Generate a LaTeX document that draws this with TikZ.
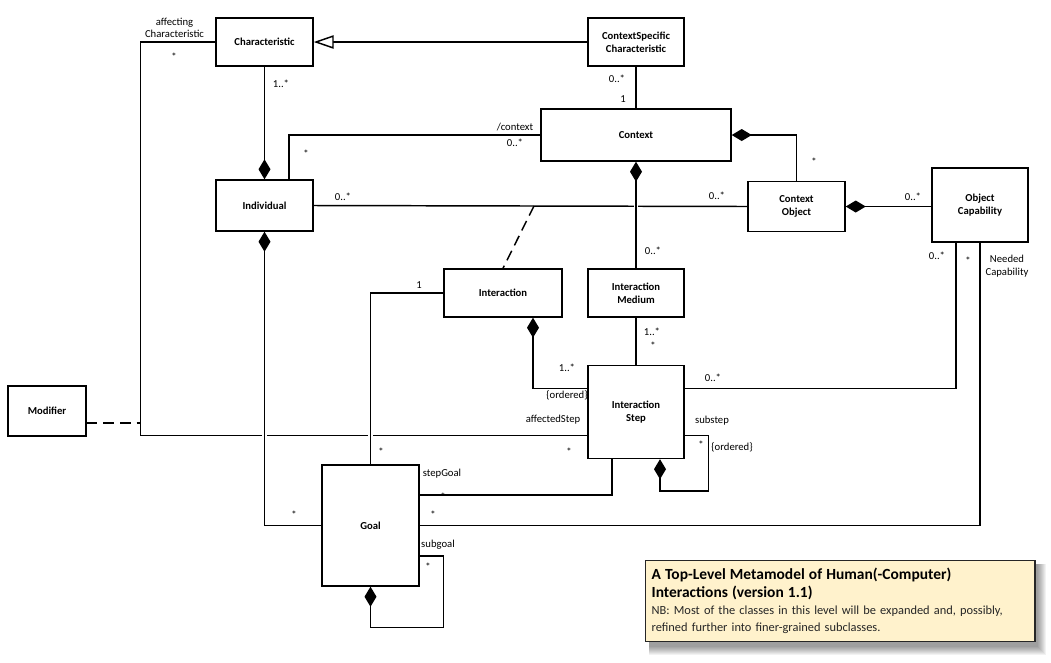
\documentclass[tikz,border=0pt]{standalone}
\usepackage{fontspec}
\setmainfont{Carlito}
\usepackage{xcolor}
\definecolor{notefill}{RGB}{255,242,204}
\usetikzlibrary{arrows.meta, positioning, calc, backgrounds}

\begin{document}
\begin{tikzpicture}[
  x=0.75pt, y=-0.75pt,
  font=\fontsize{8}{9.5}\selectfont,
  assoc/.style={draw=black, line width=1.1pt},
  compose/.style={assoc, -{Diamond[length=15pt, width=9pt]}},
  generalize/.style={assoc, -{Triangle[open, length=15pt, width=10pt, fill=white]}},
  jump/.style={preaction={draw=white, line width=3.5pt, arrows=-,
                          shorten <=4pt, shorten >=4pt}},
  assocclass/.style={assoc, dash pattern=on 8pt off 4.5pt},
  cls/.style={
    draw=black, line width=1.1pt, fill=white, align=center,
    minimum width=72pt, minimum height=36pt, inner sep=2pt,
    font=\fontsize{8}{10}\selectfont\bfseries
  },
  mult/.style={inner sep=0.5pt, align=center},
  note/.style={
    draw=black!85, line width=1pt, fill=notefill, align=left,
    text width=283pt, minimum height=60.75pt, inner sep=4.5pt,
    font=\fontsize{9.3}{13}\selectfont, text=black!85
  }
]
\useasboundingbox (0,0) rectangle (1051,662);

% classes
\node[cls, minimum width=72.75pt] (charac) at (264.5,42) {Characteristic};
\node[cls] (cschar) at (636,42) {ContextSpecific\\Characteristic};
\node[cls, minimum width=142.5pt, minimum height=39pt] (context) at (636,135) {Context};
\node[cls, minimum width=72.75pt, minimum height=38.25pt] (indiv) at (264.5,205.5) {Individual};
\node[cls, minimum width=72.75pt, minimum height=37.5pt] (ctxobj) at (796.5,206.5) {Context\\Object};
\node[cls, minimum height=55.5pt] (objcap) at (980,205) {Object\\Capability};
\node[cls, minimum width=88.5pt] (interact) at (503,293) {Interaction};
\node[cls] (medium) at (636,293) {Interaction\\Medium};
\node[cls, minimum height=69.75pt, below=35.25pt of medium] (step) {Interaction\\Step};
\node[cls, minimum width=58.5pt, minimum height=37.5pt] (modifier) at (47,411) {Modifier};
\node[cls, minimum width=72.75pt, minimum height=90.75pt] (goal) at (370.5,525.5) {Goal};

% note
\node[note, anchor=north west] (note) at (645,560)
  {{\bfseries\fontsize{11.6}{13.5}\selectfont\color{black} A Top-Level Metamodel of Human(-Computer)\\
   Interactions (version 1.1)}\\
   NB: Most of the classes in this level will be expanded and, possibly,\\
   refined further into finer-grained subclasses.};
\begin{scope}[on background layer]
  \foreach \s in {1,...,9}
    \fill[black, opacity=0.05] ($(note.north west)+(4,4)$)
      rectangle ($(note.south east)+(\s+1,\s+4)$);
\end{scope}

% helper points
\coordinate (affTop) at ($(charac.west)+(-75,0)$);
\coordinate (modEnd) at ($(modifier.east)+(0,12)$);
\coordinate (acls) at ($(indiv.east)!0.508!(ctxobj.west)$);

% lines that get crossed
\draw[assoc] (charac.west) -- (affTop) |- ($(step.west)+(0,23.5)$);
\draw[assoc] (indiv.east) -- (ctxobj.west);

% connectors
\draw[generalize] (cschar.west) -- (charac.east);
\draw[compose] (charac.south) -- (indiv.north);
\draw[assoc] (cschar.south) -- (context.north);
\draw[assoc] (context.west) -| ($(indiv.north)+(24.5,0)$);
\draw[compose] (ctxobj.north) |- (context.east);
\draw[compose, jump] (medium.north) -- (context.south);
\draw[assocclass] (acls) -- (interact.north);
\draw[assocclass] (modEnd) -- (modEnd -| affTop);
\draw[compose] (objcap.west |- ctxobj.east) -- (ctxobj.east);
\draw[compose] ($(step.west)+(0,-23.5)$) -| ($(interact.south)+(30,0)$);
\draw[assoc] (medium.south) -- (step.north);
\draw[assoc] ($(step.east)+(0,-23.5)$) -| ($(objcap.south)+(-24,0)$);
\draw[compose] ($(step.east)+(0,23.5)$) -- ++(24,0)
  |- ($(step.south)+(24,32)$) -- ($(step.south)+(24,0)$);
\draw[assoc, jump] (interact.west) -| (goal.north);
\draw[assoc] ($(step.south)+(-24,0)$) |- ($(goal.east)+(0,-30.5)$);
\draw[assoc] (goal.east) -| (objcap.south);
\draw[compose] ($(goal.east)+(0,30.5)$) -- ++(24,0)
  |- ($(goal.south)+(0,41)$) -- (goal.south);
\draw[compose, jump] (goal.west) -| (indiv.south);

% roles and multiplicities
\node[mult] (lAffChar) at (174.5,28) {affecting\\Characteristic};
\node[mult] (lAffStar) at (174,57) {*};
\node[mult] (lCharInd) at (281,84) {1..*};
\node[mult] (lCsFrom) at (617,79) {0..*};
\node[mult] (lCsTo) at (623,99) {1};
\node[mult] (lCtxRole) at (515,127) {/context};
\node[mult] (lCtxMult) at (515,143) {0..*};
\node[mult] (lIndCtx) at (306,154) {*};
\node[mult] (lCtxObj) at (814,162) {*};
\node[mult] (lIndObj) at (343,197) {0..*};
\node[mult] (lObjInd) at (717,196) {0..*};
\node[mult] (lCapObj) at (913,197) {0..*};
\node[mult] (lMedCtx) at (653,251) {0..*};
\node[mult] (lInterGoal) at (419,285) {1};
\node[mult] (lCapStep) at (937,256) {0..*};
\node[mult] (lCapGoal) at (968,261) {*};
\node[mult] (lNeeded) at (1007,266) {Needed\\Capability};
\node[mult] (lMedStep) at (652,332) {1..*};
\node[mult] (lMedStar) at (653,346) {*};
\node[mult] (lInterStep) at (567,368) {1..*};
\node[mult] (lOrdered) at (567,395) {\{ordered\}};
\node[mult] (lStepCap) at (713,378) {0..*};
\node[mult] (lAffStep) at (553,420) {affectedStep};
\node[mult] (lSubstep) at (712,421) {substep};
\node[mult] (lSubStar) at (701,445) {*};
\node[mult] (lSubOrd) at (732,447) {\{ordered\}};
\node[mult] (lAffStepStar) at (569,452) {*};
\node[mult] (lGoalTop) at (381,452) {*};
\node[mult] (lStepGoal) at (442,474) {stepGoal};
\node[mult] (lStepGoalStar) at (443,497) {*};
\node[mult] (lGoalCap) at (433,515) {*};
\node[mult] (lIndGoal) at (294,515) {*};
\node[mult] (lSubgoal) at (438,545) {subgoal};
\node[mult] (lSubgoalStar) at (428,567) {*};
\end{tikzpicture}
\end{document}
